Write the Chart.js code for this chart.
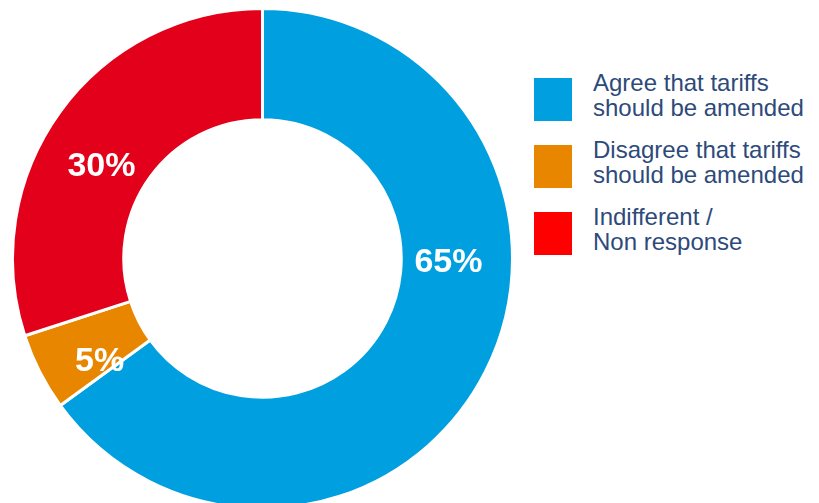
<!DOCTYPE html>
<html>
<head>
<meta charset="utf-8">
<script src="https://cdn.jsdelivr.net/npm/chart.js@4"></script>
<style>
  html, body { margin: 0; padding: 0; background: #fff; }
  body { width: 819px; height: 503px; overflow: hidden; position: relative; font-family: "Liberation Sans", Arial, sans-serif; }
  #wrap { position: absolute; left: 11px; top: 7px; width: 503px; height: 503px; }
  #legenda { position: absolute; left: 533px; top: 73px; }
  .item { position: relative; height: 67px; }
  .kotak { position: absolute; left: 1px; top: 5px; width: 38px; height: 43px; }
  .teks { position: absolute; left: 60px; top: -3px; font-size: 24px; line-height: 25px; color: #2d4a7a; white-space: nowrap; }
</style>
</head>
<body>
<div id="wrap"><canvas id="donat" width="503" height="503"></canvas></div>
<div id="legenda"></div>
<script>
// Data survei
const kategori = [
  ["Agree that tariffs", "should be amended"],
  ["Disagree that tariffs", "should be amended"],
  ["Indifferent /", "Non response"]
];
const persen = [65, 5, 30];
const warnaIrisan = ["#009fdf", "#e88600", "#e2001a"];
const warnaLegenda = ["#009fdf", "#e88600", "#ff0000"];

// Geser sudut label (derajat) dan jarak dari pusat
const geserLabel = [-26, -5, -6];
const jarakLabel = [186, 192, 186];

// Plugin sederhana untuk menulis persentase di atas irisan
const labelPersen = {
  id: "labelPersen",
  afterDatasetsDraw(chart) {
    const ctx = chart.ctx;
    const meta = chart.getDatasetMeta(0);
    ctx.save();
    ctx.fillStyle = "#fff";
    ctx.font = "bold 34px 'Liberation Sans', Arial, sans-serif";
    ctx.textAlign = "center";
    ctx.textBaseline = "middle";
    meta.data.forEach((arc, i) => {
      const tengah = (arc.startAngle + arc.endAngle) / 2 + geserLabel[i] * Math.PI / 180;
      const x = arc.x + Math.cos(tengah) * jarakLabel[i];
      const y = arc.y + Math.sin(tengah) * jarakLabel[i];
      ctx.fillText(persen[i] + "%", x, y + 1);
    });
    ctx.restore();
  }
};

new Chart(document.getElementById("donat").getContext("2d"), {
  type: "doughnut",
  data: {
    labels: kategori.map(k => k.join(" ")),
    datasets: [{
      data: persen,
      backgroundColor: warnaIrisan,
      borderColor: "#fff",
      borderWidth: 3
    }]
  },
  options: {
    responsive: false,
    animation: false,
    cutout: "55.5%",
    plugins: {
      legend: { display: false },
      tooltip: { enabled: false }
    }
  },
  plugins: [labelPersen]
});

// Legenda di sebelah kanan
const legenda = document.getElementById("legenda");
kategori.forEach((baris, i) => {
  const item = document.createElement("div");
  item.className = "item";
  item.innerHTML = '<div class="kotak" style="background:' + warnaLegenda[i] + '"></div>' +
    '<div class="teks">' + baris.join("<br>") + '</div>';
  legenda.appendChild(item);
});
</script>
</body>
</html>
